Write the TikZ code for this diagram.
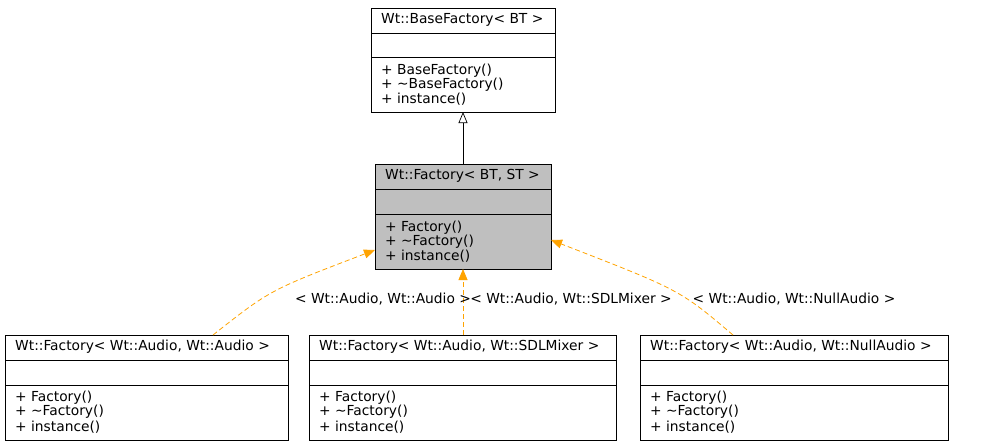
\documentclass[tikz,border=0pt]{standalone}
\usepackage{fontspec}
\setmainfont{DejaVu Sans}
\usetikzlibrary{arrows.meta}
\begin{document}
\begin{tikzpicture}[x=1pt,y=-1pt,
  box/.style={draw=black,line width=0.8pt},
  txt/.style={anchor=west,inner sep=0pt,font=\fontsize{13.8}{15}\selectfont},
  lbl/.style={inner sep=0pt,font=\fontsize{13.8}{15}\selectfont},
  dep/.style={draw={rgb,255:red,255;green,163;blue,0},dashed,dash pattern=on 5pt off 3pt,line width=0.8pt,-{Triangle[length=11pt,width=9pt,fill={rgb,255:red,255;green,163;blue,0}]}}]
\useasboundingbox (0,0) rectangle (1004,445);
% BaseFactory
\draw[box,fill=white] (371,8) rectangle (555,112);
\draw[box] (371,33) -- (555,33); \draw[box] (371,57) -- (555,57);
\node[txt] (bt) at (381,20) {Wt::BaseFactory< BT >};
\node[txt] at (381,71) {+ BaseFactory()};
\node[txt] at (381,85) {+ \textasciitilde BaseFactory()};
\node[txt] at (381,99) {+ instance()};
\coordinate (bfB) at (463,112);
% Factory
\draw[box,fill={rgb,255:red,191;green,191;blue,191}] (375,164) rectangle (551,269);
\draw[box] (375,189) -- (551,189); \draw[box] (375,214) -- (551,214);
\node[txt] (ft) at (385,176) {Wt::Factory< BT, ST >};
\node[txt] at (385,228) {+ Factory()};
\node[txt] at (385,242) {+ \textasciitilde Factory()};
\node[txt] at (385,256) {+ instance()};
\coordinate (fT) at (463,164);
\coordinate (fB) at (463,269);
\coordinate (fL) at (375,250);
\coordinate (fR) at (551,240);
% bottom boxes
\foreach \xa/\xb/\name/\nm in {5/288/Wt::Audio/L,309/616/Wt::SDLMixer/M,640/948/Wt::NullAudio/R}{
  \draw[box,fill=white] (\xa,335) rectangle (\xb,440);
  \draw[box] (\xa,360) -- (\xb,360); \draw[box] (\xa,385) -- (\xb,385);
  \node[txt] (t\nm) at (\xa+10,347) {Wt::Factory< Wt::Audio, \name\ >};
  \node[txt] at (\xa+10,398) {+ Factory()};
  \node[txt] at (\xa+10,412) {+ \textasciitilde Factory()};
  \node[txt] at (\xa+10,427) {+ instance()};
}
\coordinate (cL) at (213,335);
\coordinate (cM) at (463,335);
\coordinate (cR) at (733,335);
\draw[line width=0.7pt,-{Triangle[open,length=11pt,width=9pt]}] (fT) -- (bfB);
\draw[dep] (cL) .. controls (270,290) .. (fL);
\draw[dep] (cM) -- (fB);
\draw[dep] (cR) .. controls (680,290) .. (fR);
\node[lbl] (lL) at (383,299) {< Wt::Audio, Wt::Audio >};
\node[lbl] (lM) at (571,299) {< Wt::Audio, Wt::SDLMixer >};
\node[lbl] (lR) at (794,299) {< Wt::Audio, Wt::NullAudio >};
\end{tikzpicture}
\end{document}
